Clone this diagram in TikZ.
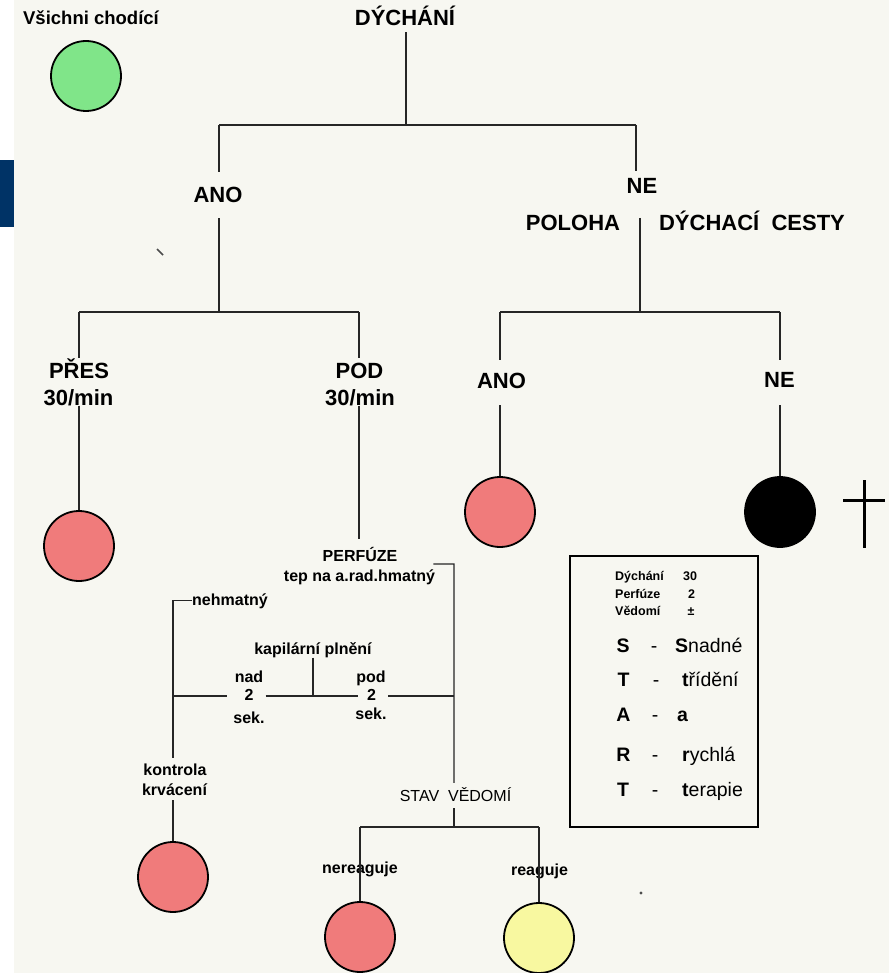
\documentclass[tikz,border=0pt]{standalone}
\usepackage{fontspec}
\setmainfont{Liberation Sans}
\usetikzlibrary{calc}
\definecolor{bgc}{HTML}{F7F7F1}
\definecolor{navy}{HTML}{003366}
\definecolor{redc}{HTML}{F07B7B}
\definecolor{greenc}{HTML}{80E589}
\definecolor{yellowc}{HTML}{F8F8A0}
\begin{document}
\begin{tikzpicture}[x=1pt,y=-1pt]
\tikzset{
 big/.style={font=\bfseries\fontsize{22}{26}\selectfont, inner sep=0pt, anchor=base},
 mid/.style={font=\bfseries\fontsize{16}{19}\selectfont, inner sep=0pt, anchor=base},
 midr/.style={font=\fontsize{16}{19}\selectfont, inner sep=0pt, anchor=base},
 lsmall/.style={font=\bfseries\fontsize{12.5}{15}\selectfont, inner sep=0pt, anchor=base},
 lbig/.style={font=\fontsize{19.5}{23}\selectfont, inner sep=0pt, anchor=base},
 lbigb/.style={font=\bfseries\fontsize{19.5}{23}\selectfont, inner sep=0pt, anchor=base},
 conn/.style={line width=1.3pt, black!85},
 dot/.style={circle, draw, line width=1.8pt, minimum size=70pt, inner sep=0pt},
}
\useasboundingbox (0,0) rectangle (889,973);
\fill[white] (0,0) rectangle (889,973);
\fill[bgc] (14,0) rectangle (889,973);
\fill[navy] (0,160) rectangle (14,227);

% texts
\node[big, font=\bfseries\fontsize{18.5}{22}\selectfont] (vsichni) at (91,25) {Všichni chodící};
\node[big] (dych) at (405,26) {DÝCHÁNÍ};
\node[big] (ano1) at (218,203) {ANO};
\node[big] (ne1) at (642,194) {NE};
\node[big] (pol) at (573,231) {POLOHA};
\node[big] (ces) at (752,231) {DÝCHACÍ\ \ CESTY};
\node[big] (pres) at (79,378) {PŘES};
\node[big] (presb) at (78.5,405) {30/min};
\node[big] (pod) at (359.5,378) {POD};
\node[big] (podb) at (360,405) {30/min};
\node[big] (ano2) at (501.5,388) {ANO};
\node[big] (ne2) at (779.5,387) {NE};
\node[mid] (perf) at (360,561) {PERFÚZE};
\node[mid] (tep) at (359.5,581) {tep na a.rad.hmatný};
\node[mid, anchor=base west] (neh) at (192,605) {nehmatný};
\node[mid] (kap) at (313,654) {kapilární plnění};
\node[mid] (nad) at (249,682) {nad};
\node[mid] (nad2) at (249,700) {2};
\node[mid] (nads) at (249,723) {sek.};
\node[mid] (pod1) at (371,682) {pod};
\node[mid] (pod2) at (371.5,700) {2};
\node[mid] (pods) at (371,719) {sek.};
\node[mid] (kon) at (175,775) {kontrola};
\node[mid] (krv) at (174.5,795) {krvácení};
\node[midr] (stav) at (455.5,801) {STAV\ \ VĚDOMÍ};
\node[mid] (ner) at (360,873) {nereaguje};
\node[mid] (rea) at (539.5,875) {reaguje};

% circles
\node[dot, fill=greenc] (c0) at (86,76) {};
\node[dot, fill=redc] (c1) at (79,546) {};
\node[dot, fill=redc] (c2) at (500,512) {};
\node[dot, fill=black] (c3) at (780,512) {};
\node[dot, fill=redc] (c4) at (173,877) {};
\node[dot, fill=redc] (c5) at (360,937) {};
\node[dot, fill=yellowc] (c6) at (539,938) {};

% cross
\draw[line width=3pt] (864,480) -- (864,548);
\draw[line width=3pt] (843,500) -- (885,500);

% junctions
\coordinate (j0) at (406,125);
\coordinate (jA) at (219,125);
\coordinate (jN) at (636,125);
\coordinate (jA2) at (219,312);
\coordinate (jP) at (79,312);
\coordinate (jD) at (359,312);
\coordinate (pc) at (640,218);
\coordinate (jN2) at (640,312);
\coordinate (jAn) at (500,312);
\coordinate (jNe) at (780,312);
\coordinate (jT) at (454,564);
\coordinate (jKo) at (173,758);
\coordinate (jK) at (313,696);
\coordinate (jL) at (173,696);
\coordinate (jR) at (454,696);
\coordinate (jS) at (454,827);
\coordinate (jSl) at (360,827);
\coordinate (jSr) at (539,827);

% connectors
\draw[conn] ($(j0 |- dych.south)+(0,6)$) -- (j0);
\draw[conn] (jA) -- (jN);
\draw[conn] (jA) -- ($(jA |- ano1.north)+(0,-15)$);
\draw[conn] ($(jA |- ano1.south)+(0,15)$) -- (jA2);
\draw[conn] (jN) -- ($(jN |- ne1.north)+(0,-8)$);
\draw[conn] (jP) -- (jD);
\draw[conn] (jP) -- (jP |- pres.north);
\draw[conn] (jP |- presb.south) -- (c1.north);
\draw[conn] (jD) -- ($(jD |- pod.north)+(0,-4)$);
\draw[conn] (jD |- podb.south) -- ($(jD |- perf.north)+(0,-8)$);
\draw[conn] (pc) -- (jN2);
\draw[conn] (jAn) -- (jNe);
\draw[conn] (jAn) -- ($(jAn |- ano2.north)+(0,-12)$);
\draw[conn] ($(jAn |- ano2.south)+(0,17)$) -- (c2.north);
\draw[conn] (jNe) -- ($(jNe |- ne2.north)+(0,-12)$);
\draw[conn] ($(jNe |- ne2.south)+(0,18)$) -- (c3.north);
\draw[conn] ($(tep.north east)+(-2,-5)$) -- (jT) -- ($(jT |- stav.north)+(0,-4)$);
\draw[conn] (neh.west) -| (jKo);
\draw[conn] ($(jKo |- krv.south)+(0,5)$) -- (c4.north);
\draw[conn] (kap.south) -- (jK);
\draw[conn] (jL) -- ($(jL -| nad2.west)+(-17,0)$);
\draw[conn] ($(jL -| nad2.east)+(12,0)$) -- ($(jL -| pod2.west)+(-9,0)$);
\draw[conn] ($(jL -| pod2.east)+(12,0)$) -- (jR);
\draw[conn] ($(jS |- stav.south)+(0,7)$) -- (jS);
\draw[conn] (jSl) -- (jSr);
\draw[conn] (jSl) -- (c5.north);
\draw[conn] (jSr) -- (c6.north);

% legend
\node[draw, line width=1.3pt, minimum width=188pt, minimum height=271pt, inner sep=0pt] (leg) at (664,691.5) {};
\node[lsmall, anchor=base west] (l1) at (615,580) {Dýchání};
\node[lsmall] (l1v) at (690,580) {30};
\node[lsmall, anchor=base west] (l2) at (615,598) {Perfúze};
\node[lsmall] (l2v) at (691.5,598) {2};
\node[lsmall, anchor=base west] (l3) at (615,615) {Vědomí};
\node[lsmall] (l3v) at (691,615) {±};
\node[lbigb] (s1) at (623,652) {S};
\node[lbig] (d1) at (654,652) {-};
\node[lbig, anchor=base west] (w1) at (675,652) {\textbf{S}nadné};
\node[lbigb] (s2) at (623.5,686) {T};
\node[lbig] (d2) at (656,686) {-};
\node[lbig, anchor=base west] (w2) at (682,686) {\textbf{t}řídění};
\node[lbigb] (s3) at (623.5,721) {A};
\node[lbig] (d3) at (655,721) {-};
\node[lbigb, anchor=base west] (w3) at (677,721) {a};
\node[lbigb] (s4) at (623.5,761) {R};
\node[lbig] (d4) at (655,761) {-};
\node[lbig, anchor=base west] (w4) at (682,761) {\textbf{r}ychlá};
\node[lbigb] (s5) at (623,796) {T};
\node[lbig] (d5) at (655,796) {-};
\node[lbig, anchor=base west] (w5) at (682,796) {\textbf{t}erapie};

% stray marks
\draw[line width=1.6pt, black!70] (157,249) -- (163,255);
\fill[black!70] (641,893) circle (1.6);
\end{tikzpicture}
\end{document}
